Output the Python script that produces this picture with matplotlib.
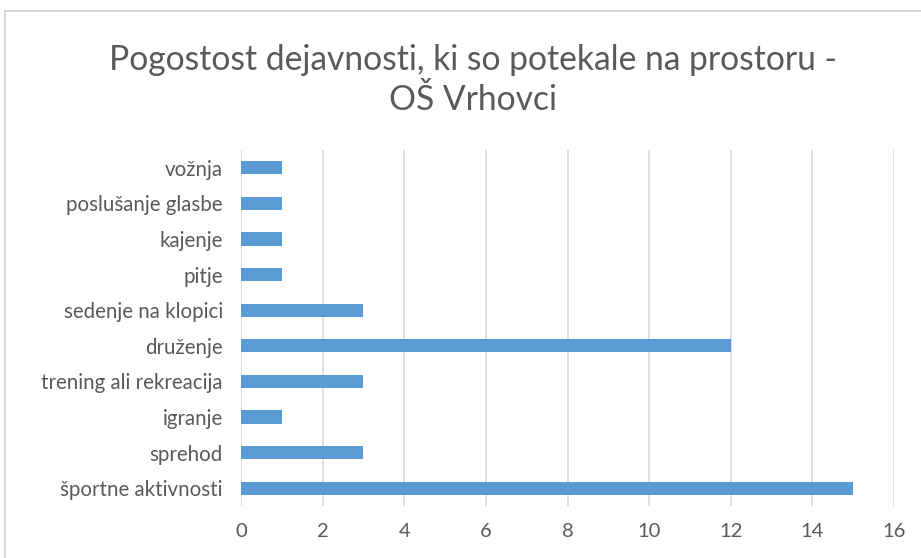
import matplotlib

matplotlib.use("Agg")
import matplotlib.pyplot as plt
from matplotlib.patches import Rectangle

plt.rcParams["font.family"] = ["Lato", "DejaVu Sans"]

# categories bottom -> top
categories = [
    "športne aktivnosti",
    "sprehod",
    "igranje",
    "trening ali rekreacija",
    "druženje",
    "sedenje na klopici",
    "pitje",
    "kajenje",
    "poslušanje glasbe",
    "vožnja",
]
counts = [15, 3, 1, 3, 12, 3, 1, 1, 1, 1]
xticks = [0, 2, 4, 6, 8, 10, 12, 14, 16]

TEXT = "#595959"
GRID = "#d9d9d9"
BAR = "#5b9bd5"

fig = plt.figure(figsize=(9.21, 5.58), dpi=100)
ax = fig.add_axes([241 / 921, 1 - 506 / 558, (894 - 241) / 921, (506 - 150) / 558])

ypos = range(len(categories))
ax.barh(ypos, counts, height=0.37, color=BAR, zorder=3)
ax.set_yticks(list(ypos))
ax.set_yticklabels(categories, fontsize=14.8, color=TEXT)
ax.set_ylim(-0.5, len(categories) - 0.5)
ax.set_xlim(0, 16)
ax.set_xticks(xticks)
ax.set_xticklabels([str(t) for t in xticks], fontsize=14.5, color=TEXT)
ax.tick_params(length=0)
ax.tick_params(axis="y", pad=13)
ax.tick_params(axis="x", pad=12)
ax.grid(axis="x", color=GRID, lw=1.2, zorder=0)
for s in ax.spines.values():
    s.set_visible(False)

fig.text(473 / 921, 1 - 80 / 558,
         "Pogostost dejavnosti, ki so potekale na prostoru -\nOŠ Vrhovci",
         ha="center", va="center", fontsize=24.2, color=TEXT, linespacing=1.3)

# chart frame
fig.patches.append(Rectangle((5 / 921, -0.1), 1.0, 1 - 11 / 558 + 0.1,
                             transform=fig.transFigure, fill=False,
                             edgecolor="#d0d0d0", lw=1.2))

fig.savefig("out.png", dpi=100)
